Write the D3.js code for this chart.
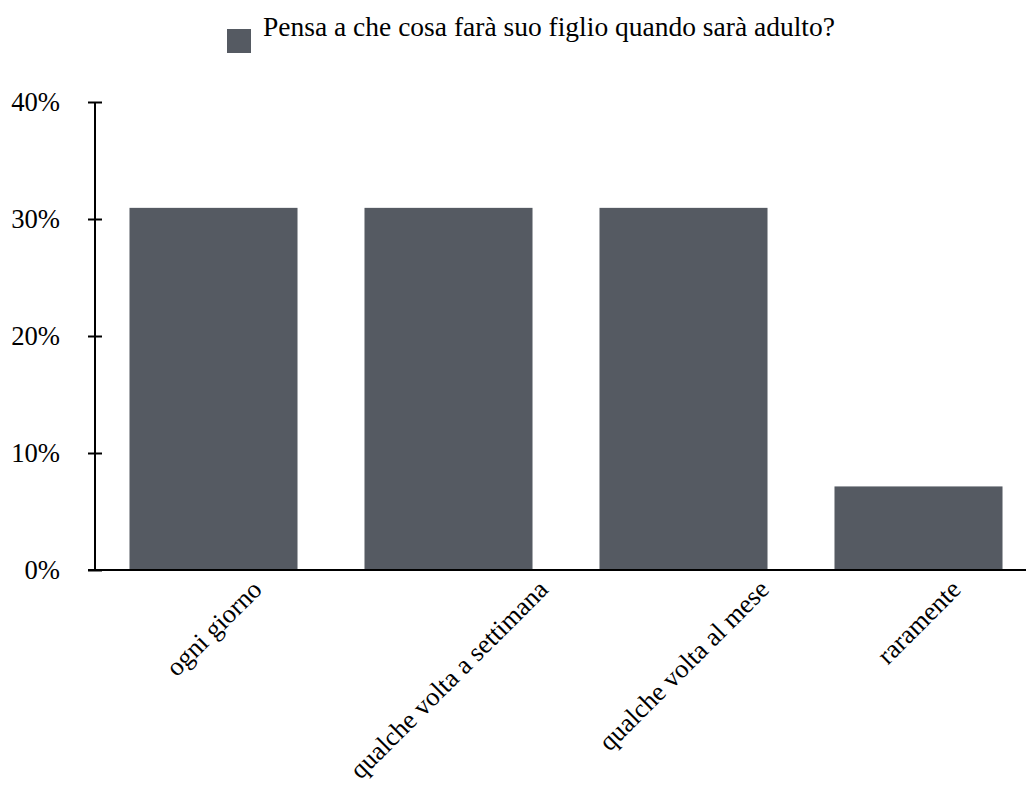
<!DOCTYPE html>
<html>
<head>
<meta charset="utf-8">
<script src="https://cdn.jsdelivr.net/npm/d3@7"></script>
<style>
  html, body { margin: 0; padding: 0; background: #fff; }
  svg { display: block; }
  text { font-family: "Liberation Serif", "Times New Roman", serif; fill: #000; }
</style>
</head>
<body>
<svg id="chart" width="1026" height="787"></svg>
<script>
// Survey answers: share of respondents for each frequency
const categories = ["ogni giorno", "qualche volta a settimana", "qualche volta al mese", "raramente"];
const shares = [13 / 42, 13 / 42, 13 / 42, 3 / 42];
const yTicks = [0, 0.1, 0.2, 0.3, 0.4];
const seriesName = "Pensa a che cosa farà suo figlio quando sarà adulto?";

const barColor = "#555a62";
const fontFamily = "'Liberation Serif', 'Times New Roman', serif";
const legendSize = 27.5;
const labelSize = 26.4;

const svg = d3.select("#chart");

const x = d3.scaleBand()
  .domain(categories)
  .range([96, 1036])
  .paddingInner(0.285)
  .paddingOuter(0.1425);

const y = d3.scaleLinear()
  .domain([0, 0.4])
  .range([570, 102]);

// Bars
svg.append("g")
  .selectAll("rect")
  .data(categories)
  .join("rect")
  .attr("x", d => x(d))
  .attr("width", x.bandwidth())
  .attr("y", (d, i) => y(shares[i]))
  .attr("height", (d, i) => y(0) - y(shares[i]))
  .attr("fill", barColor);

// Y axis with ticks crossing the line
const yAxis = svg.append("g")
  .attr("transform", "translate(95,0)")
  .call(d3.axisLeft(y).tickValues(yTicks).tickFormat(d3.format(".0%")).tickSize(7).tickPadding(28));
yAxis.attr("font-family", null).attr("font-size", null);
yAxis.select(".domain").attr("stroke", "#000").attr("stroke-width", 2).attr("d", `M0,${y(0.4)}V${y(0)}`);
yAxis.selectAll(".tick line").attr("stroke", "#000").attr("stroke-width", 2).attr("x1", 7).attr("x2", -7);
yAxis.selectAll(".tick text")
  .style("font-family", fontFamily)
  .style("font-size", "26.67px")
  .attr("fill", "#000");

// X axis baseline
svg.append("line")
  .attr("x1", 88).attr("x2", 1026)
  .attr("y1", y(0)).attr("y2", y(0))
  .attr("stroke", "#000").attr("stroke-width", 2);

// Rotated category labels, centred under each bar, tops aligned
const labels = svg.append("g")
  .selectAll("text")
  .data(categories)
  .join("text")
  .attr("text-anchor", "middle")
  .attr("dy", "0.35em")
  .style("font-family", fontFamily)
  .style("font-size", labelSize + "px")
  .text(d => d);
labels.each(function (d) {
  const len = this.getComputedTextLength();
  const cx = x(d) + x.bandwidth() / 2;
  const cy = 581 + Math.SQRT1_2 * (len / 2 + 5);
  d3.select(this).attr("transform", `translate(${cx},${cy}) rotate(-45)`);
});

// Legend
const legend = svg.append("g");
legend.append("rect")
  .attr("x", 227).attr("y", 29)
  .attr("width", 24).attr("height", 24)
  .attr("fill", barColor);
legend.append("text")
  .attr("x", 263).attr("y", 36)
  .style("font-family", fontFamily)
  .style("font-size", legendSize + "px")
  .text(seriesName);
</script>
</body>
</html>
